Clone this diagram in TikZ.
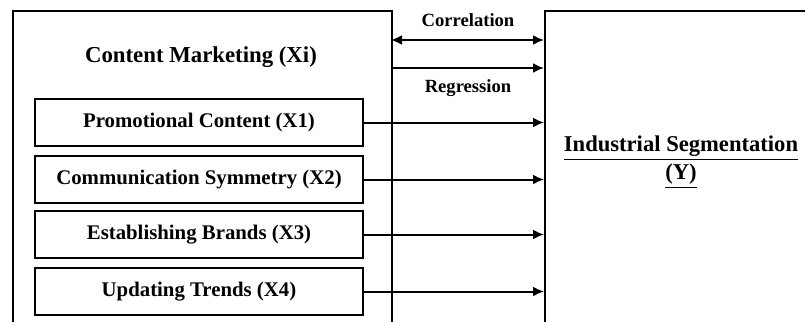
\documentclass[tikz,border=0pt]{standalone}
\usepackage{fontspec}
\setmainfont{Liberation Serif}
\usetikzlibrary{arrows.meta,positioning}

\begin{document}
\begin{tikzpicture}[x=0.5pt, y=-0.5pt,
  outer/.style={draw, line width=0.75pt, anchor=north west, inner sep=0pt},
  var/.style={draw, line width=0.75pt, minimum width=164pt, minimum height=23.5pt, inner sep=0pt, align=center, font=\fontsize{10.4}{12}\selectfont\bfseries},
  lbl/.style={font=\fontsize{9.3}{11}\selectfont\bfseries, inner sep=0pt},
  arr/.style={line width=1pt, -{Latex[length=5.5pt,width=5pt]}}
]
  \useasboundingbox (0,0) rectangle (805,322);
  \clip (0,0) rectangle (805,322);

  % containers, open at the bottom / right
  \node[outer, minimum width=189.5pt, minimum height=170pt] (cm) at (12,10) {};
  \node[outer, minimum width=150pt, minimum height=170pt] (seg) at (544,10) {};

  \node[font=\fontsize{11.4}{13}\selectfont\bfseries] (cmt) at (201,57) {Content Marketing (Xi)};
  \node[font=\fontsize{11.3}{14}\selectfont\bfseries, align=center] (segt) at (681,162)
    {\underline{Industrial Segmentation}\\\underline{(Y)}};

  \node[var] (x1) at (199,122.5) {Promotional Content (X1)};
  \node[var] (x2) at (199,179.5) {Communication Symmetry (X2)};
  \node[var] (x3) at (199,234.5) {Establishing Brands (X3)};
  \node[var] (x4) at (199,291.5) {Updating Trends (X4)};

  \node[lbl] (corr) at (468,20) {Correlation};
  \node[lbl] (regr) at (468,88) {Regression};

  \coordinate (c1) at (391,40);
  \coordinate (r1) at (391,68);
  \draw[arr, {Latex[length=5.5pt,width=5pt]}-{Latex[length=5.5pt,width=5pt]}] (c1) -- (c1 -| seg.west);
  \draw[arr] (r1) -- (r1 -| seg.west);

  \draw[arr] (x1.east) -- (x1.east -| seg.west);
  \draw[arr] (x2.east) -- (x2.east -| seg.west);
  \draw[arr] (x3.east) -- (x3.east -| seg.west);
  \draw[arr] (x4.east) -- (x4.east -| seg.west);
\end{tikzpicture}
\end{document}
